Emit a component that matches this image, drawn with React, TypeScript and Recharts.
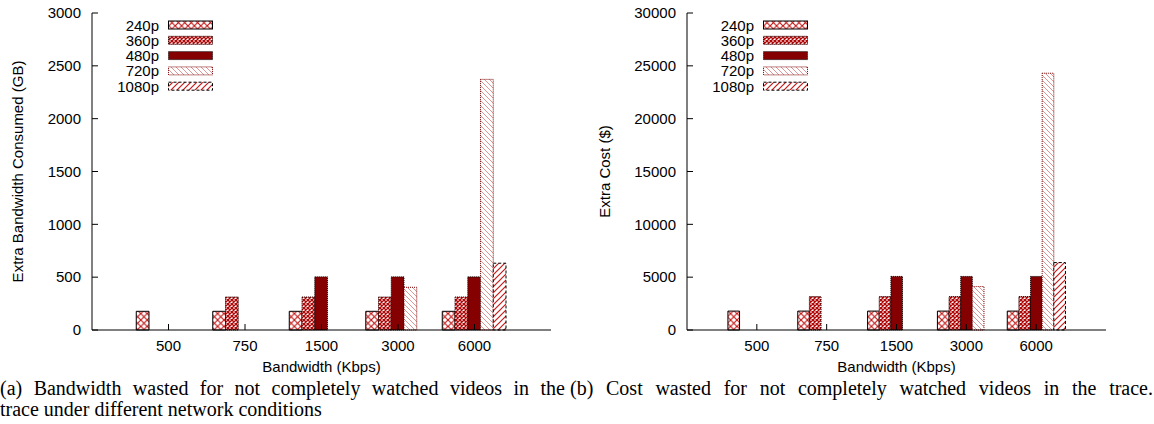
import React from 'react';
import { BarChart, Bar, XAxis, YAxis, Legend, Label } from 'recharts';

const categories = ['500', '750', '1500', '3000', '6000'];
const seriesNames = ['240p', '360p', '480p', '720p', '1080p'];

const gb240 = [177, 177, 177, 177, 177];
const gb360 = [null, 312, 312, 312, 312];
const gb480 = [null, null, 503, 503, 503];
const gb720 = [null, null, null, 404, 2372];
const gb1080 = [null, null, null, null, 632];

const cost240 = [1790, 1790, 1790, 1790, 1790];
const cost360 = [null, 3160, 3160, 3160, 3160];
const cost480 = [null, null, 5070, 5070, 5070];
const cost720 = [null, null, null, 4110, 24300];
const cost1080 = [null, null, null, null, 6380];

const gbTicks = [0, 500, 1000, 1500, 2000, 2500, 3000];
const costTicks = [0, 5000, 10000, 15000, 20000, 25000, 30000];

const keys = ['s240', 's360', 's480', 's720', 's1080'];

const buildData = (cols: (number | null)[][]) =>
  categories.map((bw, i) => {
    const row: any = { bw };
    keys.forEach((k, j) => (row[k] = cols[j][i]));
    return row;
  });

const gbData = buildData([gb240, gb360, gb480, gb720, gb1080]);
const costData = buildData([cost240, cost360, cost480, cost720, cost1080]);

const barStyles = [
  { fill: 'url(#p240)', stroke: '#000', dash: undefined },
  { fill: 'url(#p360)', stroke: '#300', dash: '1.2 0.8' },
  { fill: '#850000', stroke: '#000', dash: '1 1' },
  { fill: 'url(#p720)', stroke: '#7a0000', dash: '1 1' },
  { fill: 'url(#p1080)', stroke: '#000', dash: '3 2' },
];

const FONT = "'Liberation Sans', Arial, sans-serif";
const tickStyle = { fill: '#000', fontSize: 15, fontFamily: FONT };

const Patterns = () => (
  <svg width={0} height={0} style={{ position: 'absolute', left: 0, top: 0 }}>
    <defs>
      <pattern id="p240" patternUnits="userSpaceOnUse" width={6.4} height={6.4}>
        <rect width={6.4} height={6.4} fill="#fff" />
        <path d="M0,0 L6.4,6.4 M6.4,0 L0,6.4" stroke="#c01010" strokeWidth={1.1} />
      </pattern>
      <pattern id="p360" patternUnits="userSpaceOnUse" width={4} height={4}>
        <rect width={4} height={4} fill="#fff" />
        <path d="M0,0 L4,4 M4,0 L0,4" stroke="#b00808" strokeWidth={1.4} />
      </pattern>
      <pattern id="p720" patternUnits="userSpaceOnUse" width={5} height={5}>
        <rect width={5} height={5} fill="#fff" />
        <path d="M0,0 L5,5 M-1,4 L1,6 M4,-1 L6,1" stroke="#d98a8a" strokeWidth={0.9} />
      </pattern>
      <pattern id="p1080" patternUnits="userSpaceOnUse" width={6} height={6}>
        <rect width={6} height={6} fill="#fff" />
        <path d="M0,6 L6,0 M-1,1 L1,-1 M5,7 L7,5" stroke="#c81818" strokeWidth={1.2} />
      </pattern>
    </defs>
  </svg>
);

const LegendBox = () => (
  <svg width={130} height={85} style={{ overflow: 'visible', display: 'block' }}>
    {seriesNames.map((name, i) => {
      const cy = 12 + i * 15.3;
      const st = barStyles[i];
      return (
        <g key={name}>
          <text x={67} y={cy} textAnchor="end" dominantBaseline="central" fontSize={15} fontFamily={FONT} fill="#000">
            {name}
          </text>
          <rect x={76.5} y={cy - 4} width={44} height={8} fill={st.fill} stroke={st.stroke} strokeWidth={1} strokeDasharray={st.dash} />
        </g>
      );
    })}
  </svg>
);

type PanelProps = {
  data: any[];
  ticks: number[];
  yLabel: string;
  width: number;
  yAxisWidth: number;
  marginRight: number;
  yLabelX: number;
};

const Panel = ({ data, ticks, yLabel, width, yAxisWidth, marginRight, yLabelX }: PanelProps) => {
  const height = 380;
  const plotW = width - yAxisWidth - marginRight;
  const pad = plotW / 12;
  const band = plotW / 6;
  const barSize = band / 6;
  const maxY = ticks[ticks.length - 1];
  return (
    <BarChart
      width={width}
      height={height}
      data={data}
      margin={{ top: 13, right: marginRight, bottom: 0, left: 0 }}
      barGap={0}
      barSize={barSize}
    >
      <XAxis
        dataKey="bw"
        xAxisId="b"
        height={50}
        padding={{ left: pad, right: pad }}
        tick={tickStyle}
        tickSize={-6}
        tickMargin={16}
        axisLine={{ stroke: '#000' }}
        tickLine={{ stroke: '#000' }}
      >
        <Label
          content={(p: any) => {
            const vb = p.viewBox;
            return (
              <text x={vb.x + vb.width / 2} y={vb.y + 36} textAnchor="middle" dominantBaseline="central" fontSize={15} fontFamily={FONT} fill="#000">
                Bandwidth (Kbps)
              </text>
            );
          }}
        />
      </XAxis>
      <XAxis
        dataKey="bw"
        xAxisId="t"
        orientation="top"
        height={0}
        padding={{ left: pad, right: pad }}
        tick={false}
        tickSize={-6}
        axisLine={{ stroke: '#000' }}
        tickLine={{ stroke: '#000' }}
      />
      <YAxis
        yAxisId="l"
        width={yAxisWidth}
        domain={[0, maxY]}
        ticks={ticks}
        interval={0}
        tick={tickStyle}
        tickSize={-6}
        tickMargin={17}
        axisLine={{ stroke: '#000' }}
        tickLine={{ stroke: '#000' }}
      >
        <Label
          content={(p: any) => {
            const vb = p.viewBox;
            const cx = vb.x + yLabelX;
            const cy = vb.y + vb.height / 2;
            return (
              <text x={cx} y={cy} transform={`rotate(-90, ${cx}, ${cy})`} textAnchor="middle" dominantBaseline="central" fontSize={15} fontFamily={FONT} fill="#000">
                {yLabel}
              </text>
            );
          }}
        />
      </YAxis>
      <YAxis
        yAxisId="r"
        orientation="right"
        width={0}
        domain={[0, maxY]}
        ticks={ticks}
        interval={0}
        tick={false}
        tickSize={-6}
        axisLine={{ stroke: '#000' }}
        tickLine={{ stroke: '#000' }}
      />
      {keys.map((k, i) => (
        <Bar
          key={k}
          dataKey={k}
          name={seriesNames[i]}
          xAxisId="b"
          yAxisId="l"
          fill={barStyles[i].fill}
          stroke={barStyles[i].stroke}
          strokeWidth={1}
          strokeDasharray={barStyles[i].dash}
          isAnimationActive={false}
        />
      ))}
      <Legend
        layout="vertical"
        align="center"
        verticalAlign="middle"
        wrapperStyle={{ left: yAxisWidth, top: 13, width: 130, height: 85 }}
        content={() => <LegendBox />}
      />
    </BarChart>
  );
};

const captionStyle: React.CSSProperties = {
  position: 'absolute',
  fontFamily: "'Liberation Serif', 'Times New Roman', serif",
  fontSize: 20,
  lineHeight: '21px',
  color: '#000',
  whiteSpace: 'nowrap',
};

export default function App() {
  return (
    <div style={{ position: 'absolute', left: 0, top: 0, width: 1154, height: 424, background: '#fff', overflow: 'hidden' }}>
      <Patterns />
      <div style={{ position: 'absolute', left: 0, top: 0 }}>
        <Panel data={gbData} ticks={gbTicks} yLabel="Extra Bandwidth Consumed (GB)" width={577} yAxisWidth={92} marginRight={26} yLabelX={17} />
      </div>
      <div style={{ position: 'absolute', left: 577, top: 0 }}>
        <Panel data={costData} ticks={costTicks} yLabel="Extra Cost ($)" width={577} yAxisWidth={110} marginRight={48} yLabelX={27} />
      </div>
      <div style={{ ...captionStyle, left: 0, top: 378, width: 565 }}>
        <div style={{ textAlign: 'justify', textAlignLast: 'justify', whiteSpace: 'normal' }}>
          (a) Bandwidth wasted for not completely watched videos in the
        </div>
        <div>trace under different network conditions</div>
      </div>
      <div style={{ ...captionStyle, left: 570, top: 378, width: 583 }}>
        <div style={{ textAlign: 'justify', textAlignLast: 'justify', whiteSpace: 'normal' }}>
          (b) Cost wasted for not completely watched videos in the trace.
        </div>
      </div>
    </div>
  );
}
